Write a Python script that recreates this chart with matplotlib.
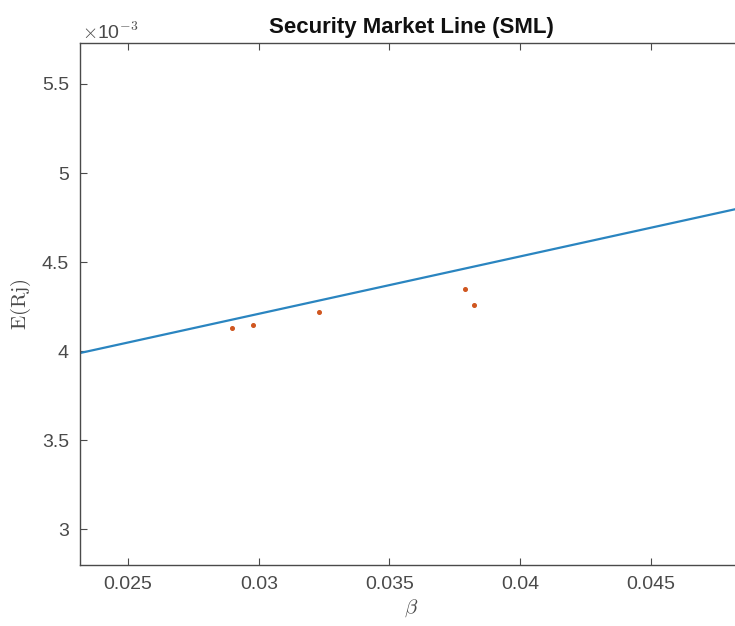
import matplotlib
matplotlib.use("Agg")
import matplotlib.pyplot as plt

# Data
beta_pts = [0.02897, 0.02979, 0.03232, 0.03790, 0.03825]
er_pts = [4.129e-3, 4.147e-3, 4.220e-3, 4.348e-3, 4.258e-3]
sml_beta = [0.0200, 0.0500]
sml_er = [3.888e-3, 4.854e-3]
xticks = [0.025, 0.03, 0.035, 0.04, 0.045]
xtick_labels = ["0.025", "0.03", "0.035", "0.04", "0.045"]
yticks = [3.0e-3, 3.5e-3, 4.0e-3, 4.5e-3, 5.0e-3, 5.5e-3]
ytick_labels = ["3", "3.5", "4", "4.5", "5", "5.5"]

plt.rcParams['font.family'] = ['Liberation Sans', 'DejaVu Sans']
plt.rcParams['mathtext.fontset'] = 'cm'

W, H = 735, 626
fig = plt.figure(figsize=(W / 100, H / 100), dpi=100)
l, r, t, b = 80, 742, 43, 565
ax = fig.add_axes([l / W, (H - b) / H, (r - l) / W, (b - t) / H])

ax.plot(sml_beta, sml_er, color='#2a85c0', lw=1.6)
ax.plot(beta_pts, er_pts, 'o', color='#D0561F', ms=2.6, mec='#D0561F')

ax.set_xlim(0.02316, 0.04849)
ax.set_ylim(2.8e-3, 5.73e-3)
ax.set_xticks(xticks)
ax.set_xticklabels(xtick_labels)
ax.set_yticks(yticks)
ax.set_yticklabels(ytick_labels)

gray = '#4a4a4a'
for s in ax.spines.values():
    s.set_color(gray)
    s.set_linewidth(1.0)
ax.tick_params(direction='in', length=5, width=0.8, color=gray, labelcolor=gray,
               labelsize=14, top=True, right=True, pad=8)

ax.set_title('Security Market Line (SML)', fontsize=16, fontweight='bold',
             color='#111111', pad=7)
ax.set_xlabel(r'$\beta$', fontsize=15, color=gray, labelpad=3)
ax.set_ylabel(r'$\mathrm{E(Rj)}$', fontsize=15, color=gray, labelpad=6)

fig.text(82 / W, 1 - 32 / H, r'$\times$10$^{\mathsf{-3}}$', fontsize=14, color=gray,
         ha='left', va='center')

fig.savefig('out.png', dpi=100)
